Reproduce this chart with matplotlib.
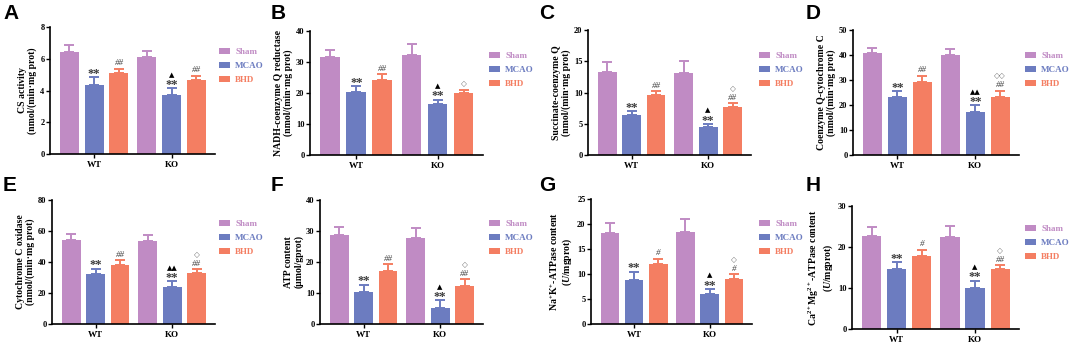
import matplotlib
matplotlib.use("Agg")
import matplotlib.pyplot as plt
from matplotlib.patches import Patch
import numpy as np

plt.rcParams['font.family'] = ['Liberation Serif', 'DejaVu Serif']
plt.rcParams['mathtext.fontset'] = 'custom'
plt.rcParams['mathtext.rm'] = 'Liberation Serif:bold'
plt.rcParams['mathtext.it'] = 'Liberation Serif:bold:italic'
plt.rcParams['mathtext.bf'] = 'Liberation Serif:bold'

groups = ["WT", "KO"]
series = ["Sham", "MCAO", "BHD"]
colors = ["#C08BC4", "#6C7CC0", "#F47E62"]

# values: [series][group]
A_mean = [[6.45, 6.1], [4.36, 3.73], [5.09, 4.67]]
A_err = [[0.39, 0.38], [0.48, 0.42], [0.28, 0.26]]
B_mean = [[31.6, 32.4], [20.4, 16.6], [24.1, 20.1]]
B_err = [[2.2, 3.5], [1.8, 1.3], [1.9, 1.0]]
C_mean = [[13.3, 13.2], [6.33, 4.45], [9.54, 7.67]]
C_err = [[1.55, 1.8], [0.64, 0.54], [0.65, 0.64]]
D_mean = [[40.7, 40.0], [23.3, 17.3], [29.3, 23.2]]
D_err = [[2.2, 2.4], [2.4, 2.6], [2.4, 2.5]]
E_mean = [[54.3, 53.5], [32.5, 24.0], [38.3, 32.9]]
E_err = [[3.7, 3.6], [3.2, 3.6], [2.8, 2.4]]
F_mean = [[28.6, 27.7], [10.4, 5.2], [17.0, 12.1]]
F_err = [[2.6, 3.3], [2.3, 2.5], [2.3, 2.3]]
G_mean = [[18.2, 18.4], [8.85, 6.03], [12.06, 9.05]]
G_err = [[2.0, 2.7], [1.65, 1.0], [1.0, 0.87]]
H_mean = [[22.7, 22.5], [14.6, 10.1], [17.8, 14.6]]
H_err = [[2.3, 2.6], [1.8, 1.7], [1.5, 1.0]]

ylabels = [
    "CS activity\n(nmol/(min·mg prot)",
    "NADH-coenzyme Q reductase\n(nmol/(min·mg prot)",
    "Succinate-coenzyme Q\n(nmol/(min·mg prot)",
    "Coenzyme Q-cytochrome C\n(nmol/(min·mg prot)",
    "Cytochrome C oxidase\n(nmol/(min·mg prot)",
    "ATP content\n(μmol/gprot)",
    "Na$^{+}$K$^{+}$-ATPase content\n($U$/mgprot)",
    "Ca$^{2+}$Mg$^{2+}$-ATPase content\n($U$/mgprot)",
]
ymax = [8, 40, 20, 50, 80, 40, 25, 30]
ystep = [2, 10, 5, 10, 20, 10, 5, 10]
letters = ["A", "B", "C", "D", "E", "F", "G", "H"]

# annotations: (group, series) -> list of strings bottom to top
ann = [
    {(0, 1): ["**"], (0, 2): ["##"], (1, 1): ["**", "▲"], (1, 2): ["##"]},
    {(0, 1): ["**"], (0, 2): ["##"], (1, 1): ["**", "▲"], (1, 2): ["◇"]},
    {(0, 1): ["**"], (0, 2): ["##"], (1, 1): ["**", "▲"], (1, 2): ["##", "◇"]},
    {(0, 1): ["**"], (0, 2): ["##"], (1, 1): ["**", "▲▲"], (1, 2): ["##", "◇◇"]},
    {(0, 1): ["**"], (0, 2): ["##"], (1, 1): ["**", "▲▲"], (1, 2): ["##", "◇"]},
    {(0, 1): ["**"], (0, 2): ["##"], (1, 1): ["**", "▲"], (1, 2): ["##", "◇"]},
    {(0, 1): ["**"], (0, 2): ["#"], (1, 1): ["**", "▲"], (1, 2): ["#", "◇"]},
    {(0, 1): ["**"], (0, 2): ["#"], (1, 1): ["**", "▲"], (1, 2): ["##", "◇"]},
]

means = [A_mean, B_mean, C_mean, D_mean, E_mean, F_mean, G_mean, H_mean]
errs = [A_err, B_err, C_err, D_err, E_err, F_err, G_err, H_err]

W, H = 1072, 344
fig = plt.figure(figsize=(W / 100, H / 100), dpi=100)

# axes pixel boxes: left, top, right, bottom
boxes = [
    (50, 27, 215, 154), (310, 31, 483, 155), (588, 30, 751, 155), (853, 30, 1019, 155),
    (52, 200, 215, 324), (320, 200, 483, 324), (591, 199, 752, 324), (852, 206, 1019, 329),
]
leg_pos = [(219, 48), (489, 52), (759, 52), (1025, 52),
           (219, 220), (489, 220), (759, 220), (1025, 225)]
letter_pos = [(3, 4), (271, 4), (539, 4), (806, 4), (3, 176), (271, 176), (539, 176), (806, 176)]

offsets = [-0.32, 0.0, 0.32]
bw = 0.245
xg = np.arange(len(groups))

for i in range(8):
    l, t, r, b = boxes[i]
    ax = fig.add_axes([l / W, 1 - b / H, (r - l) / W, (b - t) / H])
    for s in range(3):
        x = xg + offsets[s]
        ax.bar(x, means[i][s], width=bw, color=colors[s], zorder=2)
        ax.errorbar(x, means[i][s], yerr=[np.zeros(2), errs[i][s]], fmt='none',
                    ecolor=colors[s], elinewidth=1.4, capsize=3.5, capthick=1.4, zorder=1)
    for (g, s), labs in ann[i].items():
        top = means[i][s][g] + errs[i][s][g]
        off = 1
        for lab in labs:
            if lab.startswith("*"):
                ax.annotate(lab, (xg[g] + offsets[s], top), xytext=(0, off - 3), textcoords='offset points',
                            ha='center', va='bottom', fontsize=9, color='#3a3a3a', fontweight='bold')
                off += 6.5
            elif lab.startswith("#"):
                ax.annotate(lab, (xg[g] + offsets[s], top), xytext=(0, off), textcoords='offset points',
                            ha='center', va='bottom', fontsize=6.5, color='#404040', style='italic')
                off += 6.5
            elif lab.startswith("▲"):
                ax.annotate(lab, (xg[g] + offsets[s], top), xytext=(0, off), textcoords='offset points',
                            ha='center', va='bottom', fontsize=5, color='black', family='DejaVu Sans')
                off += 6
            else:
                ax.annotate(lab, (xg[g] + offsets[s], top), xytext=(0, off), textcoords='offset points',
                            ha='center', va='bottom', fontsize=5.5, color='#707070', family='DejaVu Sans')
                off += 6
    ax.set_xlim(-0.57, 1.56)
    ax.set_ylim(0, ymax[i])
    ax.set_yticks(np.arange(0, ymax[i] + 0.01, ystep[i]))
    ax.set_xticks(xg)
    ax.set_xticklabels(groups, fontsize=6.5, fontweight='bold')
    for lab in ax.get_yticklabels():
        lab.set_fontsize(6)
        lab.set_fontweight('bold')
    ax.tick_params(axis='y', length=3, width=1, pad=1)
    ax.tick_params(axis='x', length=3, width=1, pad=2)
    for sp in ['top', 'right']:
        ax.spines[sp].set_visible(False)
    for sp in ['left', 'bottom']:
        ax.spines[sp].set_linewidth(1.2)
    ax.set_ylabel(ylabels[i], fontsize=7, fontweight='bold', labelpad=2, linespacing=1.1)
    handles = [Patch(facecolor=c, edgecolor='none') for c in colors]
    lx, ly = leg_pos[i]
    leg = ax.legend(handles, series, loc='upper left', bbox_to_anchor=(lx / W, 1 - ly / H),
                    bbox_transform=fig.transFigure, frameon=False,
                    prop={'size': 6.5, 'weight': 'bold'},
                    handlelength=1.2, handleheight=0.6, handletextpad=0.6, labelspacing=0.65,
                    borderpad=0, borderaxespad=0)
    for txt, c in zip(leg.get_texts(), colors):
        txt.set_color(c)
    px, py = letter_pos[i]
    fig.text(px / W, 1 - py / H, letters[i], fontsize=15, fontweight='bold',
             family='Liberation Sans', va='top', ha='left')

fig.savefig("out.png", dpi=100)
